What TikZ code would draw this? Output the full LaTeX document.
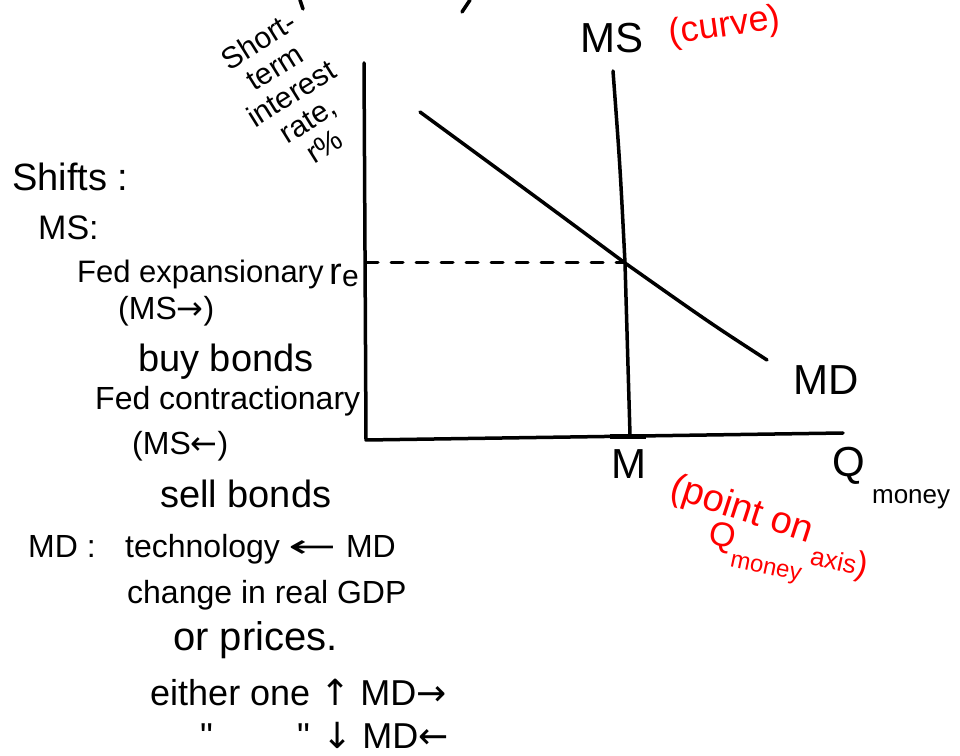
\documentclass[tikz,border=0pt]{standalone}
\usepackage{fontspec}
\setmainfont{Liberation Sans}
\newfontfamily\arrowfont{DejaVu Sans}
\definecolor{penred}{RGB}{255,0,0}
\newcommand{\rarr}{{\arrowfont →}}
\newcommand{\larr}{{\arrowfont ←}}
\newcommand{\uarr}{{\arrowfont ↑}}
\newcommand{\darr}{{\arrowfont ↓}}
\newcommand{\longlarr}{\scalebox{1.8}[1]{\arrowfont ←}}
\tikzset{
  penline/.style={line width=3.5pt, line cap=round, line join=round},
  note/.style={anchor=base west, inner sep=0pt, font=\fontsize{32}{34}\selectfont},
  bignote/.style={note, font=\fontsize{38}{40}\selectfont},
  axislabel/.style={inner sep=0pt, font=\fontsize{42}{44}\selectfont},
  redlabel/.style={inner sep=0pt, text=penred, font=\fontsize{36}{38}\selectfont},
}
\begin{document}
\begin{tikzpicture}[x=1pt, y=1pt]
  \useasboundingbox (0,0) rectangle (960,755);
  % cut-off strokes at the top edge
  \draw[penline] (300,755) -- (303,746);
  \draw[penline] (470,755) -- (462,743);
  % axes
  \coordinate (ytop) at (364,692);
  \coordinate (origin) at (366,315);
  \coordinate (xend) at (843,322);
  \draw[penline] (ytop) -- (origin) -- (xend);
  % equilibrium
  \coordinate (eq) at (625,492);
  % money supply
  \coordinate (mstop) at (613,684);
  \coordinate (msbot) at (630,320);
  \draw[penline] (mstop) .. controls (620,590) .. (eq) -- (msbot);
  % money demand
  \coordinate (mdtop) at (420,643);
  \coordinate (mdbot) at (767,395);
  \draw[penline] (mdtop) .. controls (540,555) .. (eq) .. controls (710,432) .. (mdbot);
  % dashed line to the r axis
  \draw[penline, line width=3pt, dash pattern=on 12pt off 13pt] (origin |- eq) -- (eq);
  % tick at M
  \draw[line width=5pt] (610,318) -- (646,318);
  % axis labels
  \node[axislabel] (mslab) at (612,717) {MS};
  \node[redlabel, rotate=8] (curvelab) at (725,728) {(curve)};
  \node[axislabel] (mdlab) at (826,375) {MD};
  \node[axislabel] (mlab) at (629,291) {M};
  \node[axislabel, anchor=base west] (qlab) at (832,278)
    {Q\raisebox{-27pt}{\fontsize{26}{28}\selectfont\ money}};
  \node[inner sep=0pt, anchor=base east, font=\fontsize{38}{40}\selectfont] (relab) at (359,470)
    {r\raisebox{-2pt}{\fontsize{30}{32}\selectfont e}};
  \node[inner sep=0pt, rotate=32, align=center, font=\fontsize{30}{31}\selectfont] (ylab) at (291,662)
    {Short-\\term\\interest\\rate,\\r\%};
  % red note on M
  \node[redlabel, anchor=base west, rotate=-18, font=\fontsize{38}{40}\selectfont] (pointlab) at (668,258)
    {(point on};
  \node[redlabel, anchor=base west, rotate=-12, font=\fontsize{34}{36}\selectfont] (qmoneylab) at (707,212)
    {Q\raisebox{-18pt}{\fontsize{24}{26}\selectfont money}\,{\fontsize{26}{28}\selectfont axis})};
  % shifts
  \node[bignote] (shifts) at (12,564) {Shifts :};
  \node[note, font=\fontsize{34}{36}\selectfont] (mshead) at (38,515) {MS:};
  \node[note, font=\fontsize{31}{33}\selectfont] (fedexp) at (77,472) {Fed expansionary};
  \node[note] (msright) at (118,435) {(MS\rarr)};
  \node[bignote] (buy) at (138,383) {buy bonds};
  \node[note] (fedcon) at (95,345) {Fed contractionary};
  \node[note] (msleft) at (132,300) {(MS\larr)};
  \node[bignote] (sell) at (160,247) {sell bonds};
  \node[note] (mdhead) at (28,197) {MD :};
  \node[note] (tech) at (125,197) {technology \longlarr\ MD};
  \node[note] (gdp) at (127,152) {change in real GDP};
  \node[note, font=\fontsize{40}{42}\selectfont] (prices) at (173,105) {or prices.};
  \node[note, font=\fontsize{36}{38}\selectfont] (eitherup) at (150,50) {either one \uarr\ MD\rarr};
  \node[note, font=\fontsize{36}{38}\selectfont] (ditto1) at (200,7) {\textquotedbl};
  \node[note, font=\fontsize{36}{38}\selectfont] (ditto2) at (297,7) {\textquotedbl};
  \node[note, font=\fontsize{36}{38}\selectfont] (eitherdown) at (322,7) {\darr\ MD\larr};
\end{tikzpicture}
\end{document}
